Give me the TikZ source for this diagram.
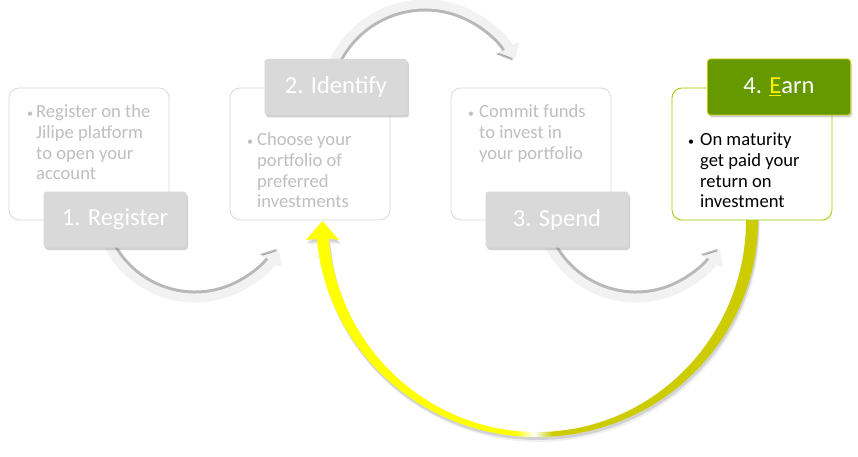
\documentclass[tikz,border=0pt]{standalone}
\usepackage{fontspec}
\setmainfont{Carlito}
\usetikzlibrary{arrows.meta,shadows,calc}
\definecolor{lblgray}{HTML}{D9D9D9}
\definecolor{boxline}{HTML}{D9D9D9}
\definecolor{txtgray}{HTML}{BFBFBF}
\definecolor{arrfill}{HTML}{F2F2F2}
\definecolor{arrshade}{HTML}{9A9A9A}
\definecolor{earngreen}{HTML}{669900}
\definecolor{earnline}{HTML}{CCCC00}
\definecolor{boxgreen}{HTML}{99CC00}
\definecolor{yelR}{HTML}{CCCC00}
\pgfdeclarehorizontalshading{yelshade}{100bp}{color(0bp)=(yellow); color(25bp)=(yellow); color(48bp)=(yellow); color(50bp)=(white); color(52bp)=(yelR); color(75bp)=(yelR); color(100bp)=(yelR)}
\newcommand{\yelarrowpath}{(757.9,243.6) arc[start angle=2, end angle=-175, x radius=221, y radius=217] -- (306,216) -- (322.5,235) -- (339,216) -- (328.8,217.5) arc[start angle=-175, end angle=2, x radius=209, y radius=212] -- cycle}
\begin{document}
\begin{tikzpicture}[x=1pt,y=1pt,
  content/.style={draw=boxline, line width=0.8pt, fill=white, rounded corners=10pt, minimum width=160pt, minimum height=132pt, inner sep=0pt},
  lblbox/.style={fill=lblgray, rounded corners=3pt, minimum width=143pt, minimum height=56pt, text=white, font=\fontsize{24.5}{28}\selectfont, drop shadow={shadow xshift=1.5pt, shadow yshift=-2.5pt, opacity=0.35}},
  bodytext/.style={anchor=north west, inner sep=0pt, align=left, font=\fontsize{18.6}{20.8}\selectfont, text=txtgray},
  bul/.style={anchor=base, inner sep=0pt, font=\fontsize{12}{14}\selectfont, text=txtgray},
  greyarrow/.style={line width=9pt, draw=arrfill, -{Triangle[width=22pt,length=13pt]}},
  greyshadow/.style={line width=9pt, draw=arrshade, -{Triangle[width=22pt,length=13pt]}, draw opacity=0.7},
]
\fill[white] (0,0) rectangle (858,456);
\useasboundingbox (0,0) rectangle (858,456);

% yellow return arrow with soft shadow
\begin{scope}[shift={(2,-5)}]
  \fill[black, opacity=0.06] \yelarrowpath;
\end{scope}
\begin{scope}[shift={(1,-3)}]
  \fill[black, opacity=0.12] \yelarrowpath;
\end{scope}
\shade[shading=yelshade] \yelarrowpath;

% content boxes
\node[content] (b1) at (89,302) {};
\node[content] (b2) at (310,302) {};
\node[content] (b3) at (531,302) {};
\node[content, draw=boxgreen] (b4) at (752,302) {};

% grey arrows
\coordinate (c1) at (195,256);
\coordinate (c2) at (425,351);
\coordinate (c3) at (636,256);
\draw[greyshadow] ($(c1)+(-155:95)$) arc[start angle=-155, end angle=-31, radius=95];
\draw[greyarrow] ($(c1)+(-155:98)$) arc[start angle=-155, end angle=-31, radius=98];
\draw[greyshadow] ($(c2)+(156:98)$) arc[start angle=156, end angle=27, radius=98];
\draw[greyarrow] ($(c2)+(156:101)$) arc[start angle=156, end angle=27, radius=101];
\draw[greyshadow] ($(c3)+(-155:95)$) arc[start angle=-155, end angle=-31, radius=95];
\draw[greyarrow] ($(c3)+(-155:98)$) arc[start angle=-155, end angle=-31, radius=98];

% step labels
\node[lblbox] (l1) at (115,236.5) {1. Register};
\node[lblbox] (l2) at (336,369) {2. Identify};
\node[lblbox] (l3) at (557,236.5) {3. Spend};
\node[lblbox, fill=earngreen, draw=earnline, line width=0.8pt] (l4) at (779,369) {4. \textcolor{yellow}{\underline{E}}arn};

% texts
\node[bul] (d1) at (30,338.7) {•};
\node[bodytext] (t1) at (36,353.3) {\strut Register on the\\Jilipe platform\\to open your\\account};
\node[bul] (d2) at (250,310.7) {•};
\node[bodytext] (t2) at (257,325.3) {\strut Choose your\\portfolio of\\preferred\\investments};
\node[bul] (d3) at (471,338.7) {•};
\node[bodytext] (t3) at (479,353.3) {\strut Commit funds\\to invest in\\your portfolio};
\node[bul, text=black] (d4) at (691,310.7) {•};
\node[bodytext, text=black] (t4) at (700,325.3) {\strut On maturity\\get paid your\\return on\\investment};
\end{tikzpicture}
\end{document}
